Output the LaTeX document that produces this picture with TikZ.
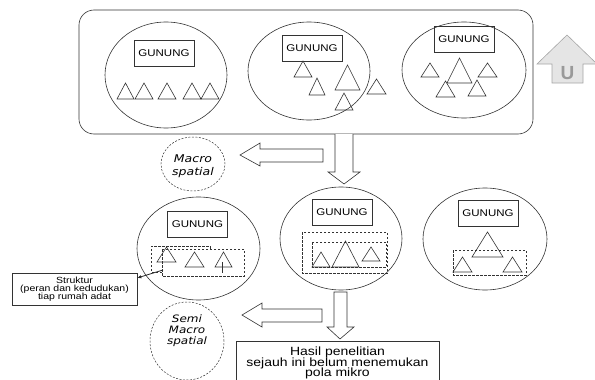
\documentclass[tikz,border=0pt]{standalone}
\usepackage{fontspec}
\setmainfont{Liberation Sans}
\newfontfamily\verd{DejaVu Sans}
\usepackage{graphicx}
\usepackage{tikz}
\usetikzlibrary{arrows.meta,positioning,shapes.geometric}
\newcommand{\vsq}[1]{\scalebox{1}[0.85]{#1}}
\lineskiplimit=-20pt
\tikzset{
  ln/.style={draw=black!80, line width=0.6pt},
  gunung/.style={ln, rectangle, minimum width=60pt, minimum height=26pt, inner sep=0pt, font=\fontsize{11.5}{12}\selectfont},
  wilayah/.style={ln, ellipse, inner sep=0pt},
  tri/.style={ln, line join=miter},
  grup/.style={draw=black!80, line width=0.6pt, dash pattern=on 2.5pt off 1.5pt},
  zona/.style={draw=black!80, line width=0.5pt, dash pattern=on 2pt off 1.5pt, ellipse, inner sep=0pt},
  blok/.style={ln, fill=white, line join=miter},
}

\begin{document}
\begin{tikzpicture}[x=1pt,y=-1pt]
        \useasboundingbox (0,0) rectangle (595,380);
        \clip (0,0) rectangle (595,380);

        % Top frame with three regions
        \node[ln, rounded corners=15pt, minimum width=454pt, minimum height=124pt] (frame) at (306,72) {};
        \node[wilayah, minimum width=122pt, minimum height=106pt] (e1) at (166,75) {};
        \node[wilayah, minimum width=122pt, minimum height=98pt] (e2) at (309,71) {};
        \node[wilayah, minimum width=124pt, minimum height=96pt] (e3) at (464,70) {};
        \node[gunung] (g1) at (164,53) {\vsq{GUNUNG}};
        \node[gunung] (g2) at (312,48) {\vsq{GUNUNG}};
        \node[gunung] (g3) at (464,39) {\vsq{GUNUNG}};

        % Houses (triangles) in the top row
        \foreach \xl/\xr/\yb/\ya in {117/134/99/83, 135/153/99/83, 158/176/99/83, 183/201/99/83, 201/219/99/83,
                                     294/312/77/61, 335/360/90/65, 309/325/95/78, 335/353/110/93, 367/386/94/79,
                                     421/439/77/63, 447/472/83/58, 478/497/77/63, 436/455/97/81, 468/486/96/80} {
            \draw[tri] (\xl,\yb) -- (\xr,\yb) -- ({(\xl+\xr)/2},\ya) -- cycle;
        }

        % North arrow
        \draw[ln, draw=gray!70, fill=gray!20, line join=miter] (567,35) -- (597,64) -- (583,64) -- (583,83)
            -- (552,83) -- (552,64) -- (537,64) -- cycle;
        \node[font=\bfseries\fontsize{19}{19}\selectfont, text=gray!80] (utara) at (567.5,73) {U};

        % Macro level
        \node[zona, minimum width=64pt, minimum height=54pt] (makro) at (193,164) {};
        \node[font=\verd\itshape\fontsize{12.5}{13.5}\selectfont, align=center] (makrotxt)
            at ([yshift=-2pt]makro.center) {\vsq{Macro}\\\vsq{spatial}};
        \draw[blok] (335,134) -- (335,172) -- (328,172) -- (344,184) -- (360,172) -- (353,172) -- (353,134);
        \draw[blok] (323,149) -- (260,149) -- (260,143) -- (240,155) -- (260,166) -- (260,162) -- (323,162) -- cycle;

        % Second row
        \node[wilayah, minimum width=123pt, minimum height=103pt] (e4) at (198.5,248.5) {};
        \node[wilayah, minimum width=122pt, minimum height=103pt] (e5) at (341,238.5) {};
        \node[wilayah, minimum width=124pt, minimum height=102pt] (e6) at (485,239) {};
        \node[gunung] (g4) at (197.5,224) {\vsq{GUNUNG}};
        \node[gunung] (g5) at (342,212) {\vsq{GUNUNG}};
        \node[gunung] (g6) at (488,213.5) {\vsq{GUNUNG}};

        \foreach \xl/\xr/\yb/\ya in {157/176/262/247, 185/204/267/252, 215/232/267/252,
                                     312/330/267/252, 332/359/267/241, 362/380/261/247,
                                     472/503/257/232, 453/472/272/257, 503/522/272/257} {
            \draw[tri] (\xl,\yb) -- (\xr,\yb) -- ({(\xl+\xr)/2},\ya) -- cycle;
        }

        % Dashed groups
        \draw[grup] (162,272) -- (151,272) -- (151,246) -- (210,246) -- (210,249);
        \draw[grup] (162,249) rectangle (244,276);
        \draw[ln] (222,262) -- (222,273);
        \draw[grup] (302,232) rectangle (387,273);
        \draw[grup] (312,242) rectangle (386,267);
        \draw[grup] (453,250) rectangle (526,275);

        % Structure label
        \node[ln, minimum width=125pt, minimum height=32pt, inner sep=0pt, align=center,
              font=\fontsize{10.5}{8.3}\selectfont] (struktur) at (74.5,289)
              {\vsq{Struktur}\\\vsq{(peran dan kedudukan)}\\\vsq{tiap rumah adat}};
        \coordinate (pangkal) at (163,270);
        \draw[black!85, line width=0.8pt, -{Latex[length=4pt,width=3.5pt]}] (pangkal) -- (struktur.10);

        % Semi macro level
        \node[zona, minimum width=74pt, minimum height=78pt] (semi) at (187,341) {};
        \node[font=\verd\itshape\fontsize{12}{11}\selectfont, align=center] (semitxt)
            at ([yshift=10pt]semi.center) {\vsq{Semi}\\\vsq{Macro}\\\vsq{spatial}};
        \draw[blok] (334,292) -- (334,327) -- (327,327) -- (340,339) -- (354,327) -- (347,327) -- (347,292) -- cycle;
        \draw[blok] (322,309) -- (262,309) -- (262,303) -- (242,315) -- (262,327) -- (262,322) -- (322,322) -- cycle;

        % Result
        \node[ln, minimum width=203pt, minimum height=44pt, inner sep=0pt, align=center,
              font=\fontsize{14}{10.8}\selectfont] (hasil) at (337.5,363)
              {\vsq{Hasil penelitian}\\\vsq{sejauh ini belum menemukan}\\\vsq{pola mikro}};

    \end{tikzpicture}
\end{document}
